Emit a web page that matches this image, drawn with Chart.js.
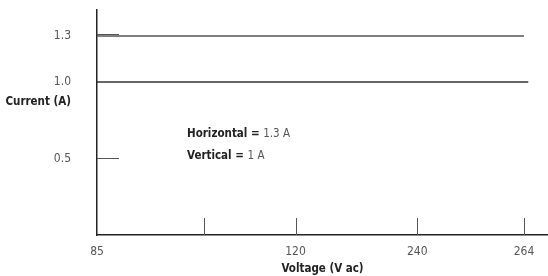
<!DOCTYPE html>
<html><head><meta charset="utf-8">
<script src="https://cdn.jsdelivr.net/npm/chart.js@4"></script>
<style>html,body{margin:0;padding:0;background:#fff}#wrap{width:548px;height:276px}</style>
</head><body><div id="wrap"><canvas id="c"></canvas></div>
<script>
// x axis is schematic (not to scale): tick slots and their labels
const xSlots = [0, 1, 1.86, 3, 4];
const xLabels = ['85', '', '120', '240', '264'];
const yTicks = [0.5, 1.0, 1.3];
const yMarked = [0.5, 1.3];
const horizontalLine = [{x: 0, y: 1.3}, {x: 4, y: 1.3}];
const verticalLine = [{x: 0, y: 1.0}, {x: 4.04, y: 1.0}];
const note1 = ['Horizontal = ', '1.3 A'];
const note2 = ['Vertical = ', '1 A'];

const FONT = '"Liberation Sans Narrow", "DejaVu Sans Condensed", "Liberation Sans", sans-serif';

const marks = {
  id: 'marks',
  afterDraw(chart) {
    const ctx = chart.ctx, x = chart.scales.x, y = chart.scales.y;
    ctx.save();
    ctx.strokeStyle = '#555'; ctx.lineWidth = 1;
    xSlots.slice(1).forEach(s => {
      const px = Math.round(x.getPixelForValue(s)) + 0.5;
      ctx.beginPath(); ctx.moveTo(px, y.bottom); ctx.lineTo(px, y.bottom - 17); ctx.stroke();
    });
    yMarked.forEach(v => {
      const py = Math.round(y.getPixelForValue(v)) + 0.5 - (v === 1.3 ? 2 : 0);
      ctx.beginPath(); ctx.moveTo(x.left, py); ctx.lineTo(x.left + 22, py); ctx.stroke();
    });
    // y title (horizontal)
    ctx.textBaseline = 'middle';
    ctx.font = 'bold 11.5px ' + FONT; ctx.fillStyle = '#222'; ctx.textAlign = 'right';
    ctx.fillText('Current (A)', 71, y.getPixelForValue(0.87));
    // notes
    ctx.textAlign = 'left';
    const drawNote = (parts, px, py) => {
      ctx.font = 'bold 11.5px ' + FONT; ctx.fillStyle = '#222';
      ctx.fillText(parts[0], px, py);
      const w = ctx.measureText(parts[0]).width;
      ctx.font = '11.5px ' + FONT; ctx.fillStyle = '#555';
      ctx.fillText(parts[1], px + w, py);
    };
    drawNote(note1, 187, 134);
    drawNote(note2, 187, 156);
    ctx.restore();
  }
};

new Chart(document.getElementById('c'), {
  type: 'line',
  data: { datasets: [
    { data: horizontalLine, borderColor: '#555', borderWidth: 1.5, pointRadius: 0 },
    { data: verticalLine, borderColor: '#333', borderWidth: 1.5, pointRadius: 0 }
  ]},
  options: {
    responsive: true, maintainAspectRatio: false, animation: false,
    layout: { padding: { top: 10, right: 0, left: 0, bottom: 0 } },
    plugins: { legend: { display: false }, tooltip: { enabled: false }, title: { display: false } },
    scales: {
      x: {
        type: 'linear', min: 0, max: 4.225,
        afterBuildTicks: s => { s.ticks = xSlots.map(v => ({ value: v })); },
        afterFit: s => { s.height = 41; },
        ticks: { callback: (v) => { const i = xSlots.indexOf(v); return i >= 0 ? xLabels[i] : ''; },
                 color: '#555', font: { family: FONT, size: 12 }, padding: 0, maxRotation: 0, autoSkip: false },
        grid: { drawOnChartArea: false, drawTicks: true, tickLength: 10, tickColor: 'rgba(0,0,0,0)' },
        border: { color: '#222', width: 1.5 },
        title: { display: true, text: 'Voltage (V ac)', color: '#222', font: { family: FONT, size: 11.5, weight: 'bold' }, padding: { top: 0, bottom: 0 } }
      },
      y: {
        min: 0, max: 1.47,
        afterBuildTicks: s => { s.ticks = yTicks.map(v => ({ value: v })); },
        afterFit: s => { s.width = 97; },
        ticks: { callback: v => v.toFixed(1), color: '#555', font: { family: FONT, size: 12 }, padding: 0 },
        grid: { drawOnChartArea: false, drawTicks: true, tickLength: 26, tickColor: 'rgba(0,0,0,0)' },
        border: { color: '#222', width: 1.5 }
      }
    }
  },
  plugins: [marks]
});
</script></body></html>
